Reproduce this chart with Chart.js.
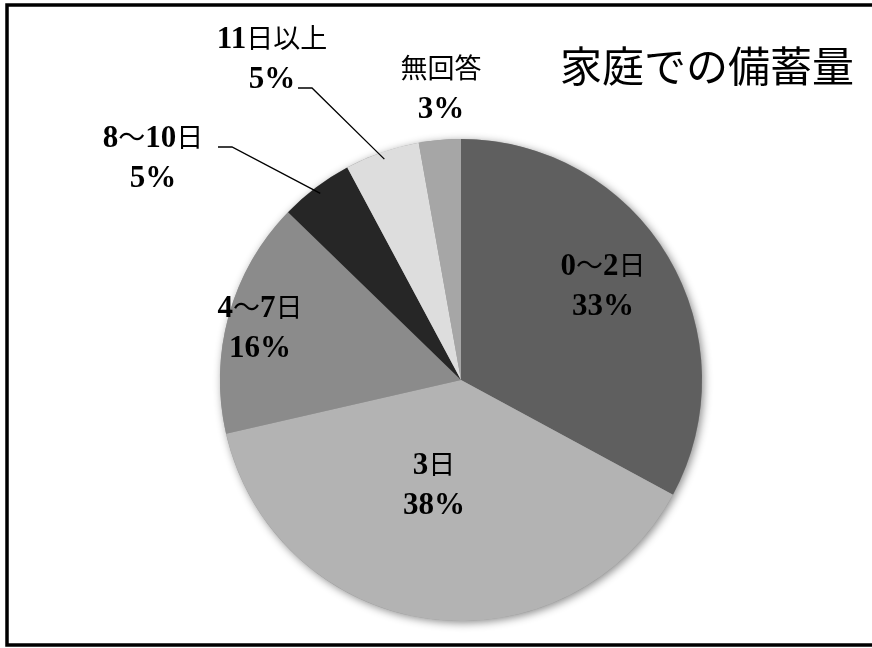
<!DOCTYPE html>
<html>
<head>
<meta charset="utf-8">
<script src="https://cdn.jsdelivr.net/npm/chart.js@4/dist/chart.umd.min.js"></script>
<style>
  html, body { margin: 0; padding: 0; background: #fff; }
  canvas { display: block; }
</style>
</head>
<body>
<canvas id="chart" width="872" height="648"></canvas>
<script>
// data (percent of households)
const categories = ["0～2日", "3日", "4～7日", "8～10日", "11日以上", "無回答"];
const shares = [32.8, 38.4, 15.8, 4.9, 5.0, 2.8];
const sliceColors = ["#5f5f5f", "#b3b3b3", "#8b8b8b", "#262626", "#dddddd", "#a6a6a6"];
const chartTitle = "家庭での備蓄量";

const DIGIT_FONT = 'bold 31px "Liberation Serif", "DejaVu Serif", serif';
const CJK_FONT = '27px "Noto Sans CJK JP", sans-serif';

// draw a line of text, digits in serif bold, kanji in CJK font
function drawMixed(ctx, text, cx, cy) {
  const runs = [];
  for (const ch of text) {
    const font = /[0-9%]/.test(ch) ? DIGIT_FONT : CJK_FONT;
    if (runs.length && runs[runs.length - 1].font === font) runs[runs.length - 1].text += ch;
    else runs.push({ font, text: ch });
  }
  let total = 0;
  runs.forEach(r => { ctx.font = r.font; r.w = ctx.measureText(r.text).width; total += r.w; });
  let x = cx - total / 2;
  ctx.textAlign = "left";
  ctx.textBaseline = "alphabetic";
  runs.forEach(r => {
    ctx.font = r.font;
    ctx.fillText(r.text, x, cy + 10);
    x += r.w;
  });
}

const pieDecor = {
  id: "pieDecor",
  beforeDraw(chart) {
    const ctx = chart.ctx;
    ctx.save();
    ctx.fillStyle = "#fff";
    ctx.fillRect(0, 0, chart.width, chart.height);
    ctx.restore();
  },
  beforeDatasetsDraw(chart) {
    // soft shadow under the pie
    const arc = chart.getDatasetMeta(0).data[0];
    const ctx = chart.ctx;
    ctx.save();
    ctx.shadowColor = "rgba(0,0,0,0.45)";
    ctx.shadowBlur = 9;
    ctx.shadowOffsetX = 2;
    ctx.shadowOffsetY = 2;
    ctx.fillStyle = "#999";
    ctx.beginPath();
    ctx.arc(arc.x, arc.y, arc.outerRadius, 0, Math.PI * 2);
    ctx.fill();
    ctx.restore();
  },
  afterDatasetsDraw(chart, args, opts) {
    const ctx = chart.ctx;
    const meta = chart.getDatasetMeta(0);
    const values = chart.data.datasets[0].data;
    ctx.save();
    ctx.fillStyle = "#000";

    // leader lines for the small slices
    ctx.strokeStyle = "#000";
    ctx.lineWidth = 1.3;
    Object.entries(opts.leaders).forEach(([i, start]) => {
      const el = meta.data[i];
      const mid = (el.startAngle + el.endAngle) / 2;
      const r = el.outerRadius * 0.97;
      ctx.beginPath();
      ctx.moveTo(start[0], start[1]);
      ctx.lineTo(start[0] + 14, start[1]);
      ctx.lineTo(el.x + Math.cos(mid) * r, el.y + Math.sin(mid) * r);
      ctx.stroke();
    });

    // category + percent labels
    chart.data.labels.forEach((lab, i) => {
      const [x, y] = opts.labelPos[i];
      drawMixed(ctx, lab, x, y);
      drawMixed(ctx, Math.round(values[i]) + "%", x, y + 40);
    });

    // title
    ctx.font = '42px "Noto Sans CJK JP", sans-serif';
    ctx.textAlign = "center";
    ctx.textBaseline = "alphabetic";
    ctx.fillText(chartTitle, 707, 82);

    // frame (right side runs off the picture)
    ctx.lineWidth = 3.5;
    ctx.strokeStyle = "#000";
    ctx.strokeRect(7, 5, 900, 640);
    ctx.restore();
  }
};

new Chart(document.getElementById("chart"), {
  type: "pie",
  data: {
    labels: categories,
    datasets: [{
      data: shares,
      backgroundColor: sliceColors,
      borderWidth: 0
    }]
  },
  options: {
    responsive: false,
    animation: false,
    layout: { padding: { left: 220, right: 170, top: 139, bottom: 27 } },
    plugins: {
      legend: { display: false },
      tooltip: { enabled: false },
      pieDecor: {
        labelPos: [[603, 265], [434, 464], [260, 307], [153, 137], [272, 38], [441, 68]],
        leaders: { 3: [218, 147], 4: [298, 88] }
      }
    }
  },
  plugins: [pieDecor]
});
</script>
</body>
</html>
